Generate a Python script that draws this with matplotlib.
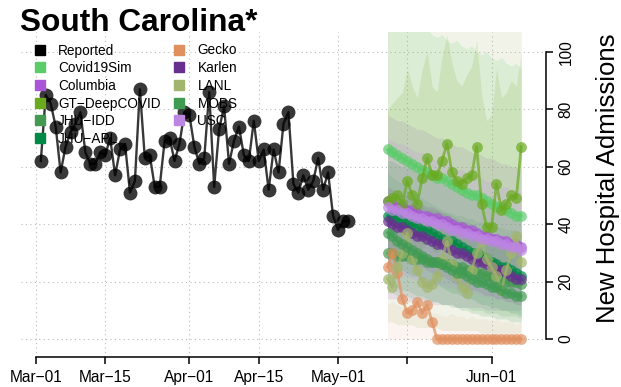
import numpy as np
import pandas as pd
import matplotlib
matplotlib.use('Agg')
import matplotlib.pyplot as plt
import matplotlib.dates as mdates
from matplotlib.lines import Line2D

plt.rcParams['font.family'] = ['Liberation Sans', 'DejaVu Sans']

#%% data
rep_dates = pd.date_range('2021-03-02', '2021-05-03')
reported = [62, 85, 82, 74, 58, 67, 72, 75, 79, 65, 61, 61, 65, 64, 70, 57, 66, 68, 51, 55,
            87, 63, 64, 53, 53, 69, 70, 62, 68, 79, 78, 67, 61, 63, 86, 53, 73, 81, 61, 69,
            74, 64, 62, 76, 62, 66, 52, 66, 58, 75, 79, 54, 51, 57, 52, 55, 63, 52, 58, 43,
            38, 41, 41]

fc_dates = pd.date_range('2021-05-11', '2021-06-07')

covid19sim = [66, 65, 64, 63, 62, 61, 60, 59, 58, 57, 56, 56, 55, 54, 53, 52, 51, 50, 50, 49, 48, 47, 46, 46, 45, 44, 43, 43]
columbia = [48, 47, 46, 46, 45, 45, 44, 43, 43, 42, 42, 41, 41, 40, 39, 39, 38, 38, 37, 36, 36, 35, 35, 34, 34, 33, 33, 32]
gt_deepcovid = [48, 49, 50, 47, 55, 50, 47, 56, 63, 57, 57, 62, 68, 58, 55, 54, 56, 57, 67, 47, 39, 39, 54, 45, 47, 50, 49, 67]
jhu_idd = [30, 30, 29, 29, 29, 28, 28, 28, 27, 27, 27, 26, 26, 26, 25, 25, 24, 24, 23, 23, 22, 22, 21, 21, 20, 20, 20, 19]
jhu_apl = [43, 42, 42, 41, 40, 40, 39, 38, 38, 37, 36, 35, 34, 34, 33, 32, 31, 30, 30, 29, 28, 27, 26, 25, 25, 24, 23, 22]
gecko = [25, 30, 23, 14, 9, 10, 13, 9, 12, 6, 0, 0, 0, 0, 0, 0, 0, 0, 0, 0, 0, 0, 0, 0, 0, 0, 0, 0]
karlen = [41, 40, 39, 39, 38, 37, 36, 36, 35, 34, 33, 33, 32, 31, 30, 30, 29, 28, 27, 27, 26, 25, 24, 24, 23, 22, 21, 21]
lanl = [21, 18, 25, 30, 37, 28, 24, 20, 18, 19, 22, 28, 34, 26, 22, 18, 16, 24, 30, 34, 28, 25, 22, 17, 24, 30, 36, 27]
mobs = [37, 36, 34, 33, 32, 31, 30, 29, 28, 27, 27, 26, 25, 24, 23, 23, 22, 21, 20, 20, 19, 18, 18, 17, 16, 16, 15, 15]
usc = [46, 45, 45, 44, 44, 43, 42, 42, 41, 41, 40, 40, 39, 38, 38, 37, 37, 36, 36, 35, 35, 34, 34, 33, 33, 32, 32, 31]

# prediction intervals
covid19sim_lo = [38, 37, 37, 36, 35, 35, 34, 33, 33, 32, 31, 31, 30, 30, 29, 28, 28, 27, 27, 26, 26, 25, 25, 24, 24, 23, 23, 22]
covid19sim_hi = [112, 111, 112, 110, 109, 110, 108, 107, 108, 106, 105, 106, 104, 103, 104, 102, 101, 102, 100, 99, 100, 98, 97, 98, 96, 95, 96, 94]
columbia_lo = [14, 14, 14, 13, 13, 13, 13, 13, 12, 12, 12, 12, 12, 12, 11, 11, 11, 11, 11, 11, 10, 10, 10, 10, 10, 10, 10, 10]
columbia_hi = [78, 77, 76, 76, 75, 74, 73, 73, 72, 71, 70, 70, 69, 68, 67, 67, 66, 65, 65, 64, 63, 63, 62, 61, 61, 60, 60, 59]
gt_lo = [30, 31, 30, 29, 32, 30, 29, 31, 34, 31, 30, 32, 35, 30, 28, 27, 29, 30, 34, 24, 20, 20, 27, 22, 23, 25, 24, 33]
gt_hi = [80, 82, 84, 86, 94, 88, 84, 94, 100, 88, 86, 98, 106, 96, 90, 88, 92, 95, 104, 85, 76, 78, 94, 84, 86, 90, 88, 100]
jhu_idd_lo = [16, 16, 15, 15, 15, 14, 14, 14, 13, 13, 13, 12, 12, 12, 11, 11, 11, 10, 10, 10, 9, 9, 9, 8, 8, 8, 8, 7]
jhu_idd_hi = [48, 48, 47, 47, 47, 46, 46, 46, 45, 45, 45, 44, 44, 44, 43, 43, 42, 42, 41, 41, 40, 40, 39, 39, 38, 38, 38, 37]
jhu_apl_lo = [26, 25, 25, 24, 23, 22, 22, 21, 20, 19, 19, 18, 17, 16, 16, 15, 14, 14, 13, 12, 12, 11, 11, 10, 10, 9, 9, 8]
jhu_apl_hi = [62, 62, 61, 60, 60, 59, 58, 57, 57, 56, 55, 54, 53, 53, 52, 51, 50, 49, 49, 48, 47, 46, 45, 44, 44, 43, 42, 41]
gecko_lo = [0, 0, 0, 0, 0, 0, 0, 0, 0, 0, 0, 0, 0, 0, 0, 0, 0, 0, 0, 0, 0, 0, 0, 0, 0, 0, 0, 0]
gecko_hi = [12, 13, 12, 11, 10, 10, 11, 10, 10, 9, 9, 8, 8, 9, 8, 8, 7, 8, 7, 7, 7, 6, 7, 6, 6, 6, 5, 6]
karlen_lo = [30, 29, 28, 28, 27, 26, 25, 25, 24, 23, 22, 22, 21, 20, 19, 19, 18, 17, 17, 16, 15, 15, 14, 14, 13, 13, 12, 12]
karlen_hi = [53, 52, 51, 50, 50, 49, 48, 47, 46, 46, 45, 44, 43, 42, 41, 41, 40, 39, 38, 37, 37, 36, 35, 34, 33, 33, 32, 31]
lanl_lo = [6, 6, 5, 5, 5, 5, 4, 4, 4, 4, 4, 3, 3, 3, 3, 3, 3, 3, 3, 2, 2, 2, 2, 2, 2, 2, 2, 2]
lanl_hi = [112, 113, 112, 114, 113, 115, 114, 113, 115, 116, 114, 115, 116, 117, 115, 116, 117, 116, 118, 117, 116, 118, 117, 118, 119, 118, 117, 118]
mobs_lo = [20, 19, 18, 17, 17, 16, 15, 15, 14, 13, 13, 12, 12, 11, 11, 10, 10, 9, 9, 8, 8, 8, 7, 7, 7, 6, 6, 6]
mobs_hi = [58, 56, 55, 54, 52, 51, 50, 49, 48, 47, 46, 45, 44, 43, 42, 41, 41, 40, 39, 38, 37, 37, 36, 35, 35, 34, 34, 33]
usc_lo = [24, 23, 23, 22, 22, 21, 21, 20, 20, 19, 19, 19, 18, 18, 17, 17, 17, 16, 16, 15, 15, 15, 14, 14, 14, 13, 13, 13]
usc_hi = [70, 69, 68, 68, 67, 66, 65, 65, 64, 63, 62, 62, 61, 60, 59, 59, 58, 57, 57, 56, 55, 55, 54, 53, 53, 52, 52, 51]

model_names = ['Covid19Sim', 'Columbia', 'GT−DeepCOVID', 'JHU−IDD', 'JHU−APL',
               'Gecko', 'Karlen', 'LANL', 'MOBS', 'USC']
model_colors = ['#5bcc6a', '#a957d6', '#6aaa1e', '#449a50', '#008a45',
                '#e0905f', '#67308f', '#a2b56c', '#409b52', '#bd86e3']
model_vals = [covid19sim, columbia, gt_deepcovid, jhu_idd, jhu_apl, gecko, karlen, lanl, mobs, usc]
model_lo = [covid19sim_lo, columbia_lo, gt_lo, jhu_idd_lo, jhu_apl_lo, gecko_lo, karlen_lo, lanl_lo, mobs_lo, usc_lo]
model_hi = [covid19sim_hi, columbia_hi, gt_hi, jhu_idd_hi, jhu_apl_hi, gecko_hi, karlen_hi, lanl_hi, mobs_hi, usc_hi]

xtick_dates = pd.to_datetime(['2021-03-01', '2021-03-15', '2021-04-01', '2021-04-15',
                              '2021-05-01', '2021-05-15', '2021-06-01'])
xtick_labels = ['Mar−01', 'Mar−15', 'Apr−01', 'Apr−15', 'May−01', '', 'Jun−01']
yticks = [0, 20, 40, 60, 80, 100]

#%% plot
W, H = 621, 387
fig = plt.figure(figsize=(W / 100, H / 100), dpi=100)
ax = fig.add_axes([21 / W, 1 - 356.6 / H, (546 - 21) / W, (356.6 - 32) / H])

for c, lo, hi in zip(model_colors, model_lo, model_hi):
    # the gecko band reads as pale cream in the original
    a = 0.09 if c == '#e0905f' else 0.15
    ax.fill_between(fc_dates, lo, hi, color=c, alpha=a, lw=0)

ax.plot(rep_dates, reported, '-o', color='black', alpha=0.78, lw=1.7, ms=10, mew=0)

for c, v in zip(model_colors, model_vals):
    ax.plot(fc_dates, v, '-o', color=c, alpha=0.7, lw=2, ms=7.8, mew=0)

ax.set_xlim(pd.Timestamp('2021-02-26'), pd.Timestamp('2021-06-12'))
ax.set_ylim(-6.1, 106.9)

ax.set_xticks(xtick_dates)
ax.set_xticklabels(xtick_labels, fontsize=11.2)
ax.yaxis.tick_right()
ax.set_yticks(yticks)
ax.set_yticklabels([str(v) for v in yticks], fontsize=11.2, rotation=90, va='center')
ax.tick_params(axis='both', direction='out', length=5, width=1.1, color='black')
ax.tick_params(axis='x', pad=5)
ax.tick_params(axis='y', pad=4)

for s in ['top', 'left']:
    ax.spines[s].set_visible(False)
ax.spines['bottom'].set_bounds(mdates.date2num(xtick_dates[0]), mdates.date2num(xtick_dates[-1]))
ax.spines['right'].set_bounds(0, 100)
ax.spines['bottom'].set_linewidth(1.1)
ax.spines['right'].set_linewidth(1.1)

ax.grid(True, linestyle=(0, (1, 3)), color='#bbbbbb', linewidth=0.8)
ax.set_axisbelow(True)

handles = [Line2D([], [], marker='s', ls='', color='black', ms=7.5)]
handles += [Line2D([], [], marker='s', ls='', color=c, ms=7.5) for c in model_colors]
labels = ['Reported'] + model_names
ax.legend(handles, labels, ncol=2, frameon=False, fontsize=9.8,
          loc='upper left', bbox_to_anchor=(33 / W, 1 - 43.5 / H), bbox_transform=fig.transFigure,
          borderpad=0, borderaxespad=0, handlelength=1.0, handletextpad=0.85,
          columnspacing=0.85, labelspacing=0.27)

fig.text(20 / W, 1 - 31 / H, 'South Carolina*', fontsize=22.8, fontweight='bold', va='baseline')
fig.text(620 / W, 1 - 178 / H, 'New Hospital Admissions', fontsize=18.5, rotation=90,
         ha='right', va='center')

fig.savefig('out.png', dpi=100)
